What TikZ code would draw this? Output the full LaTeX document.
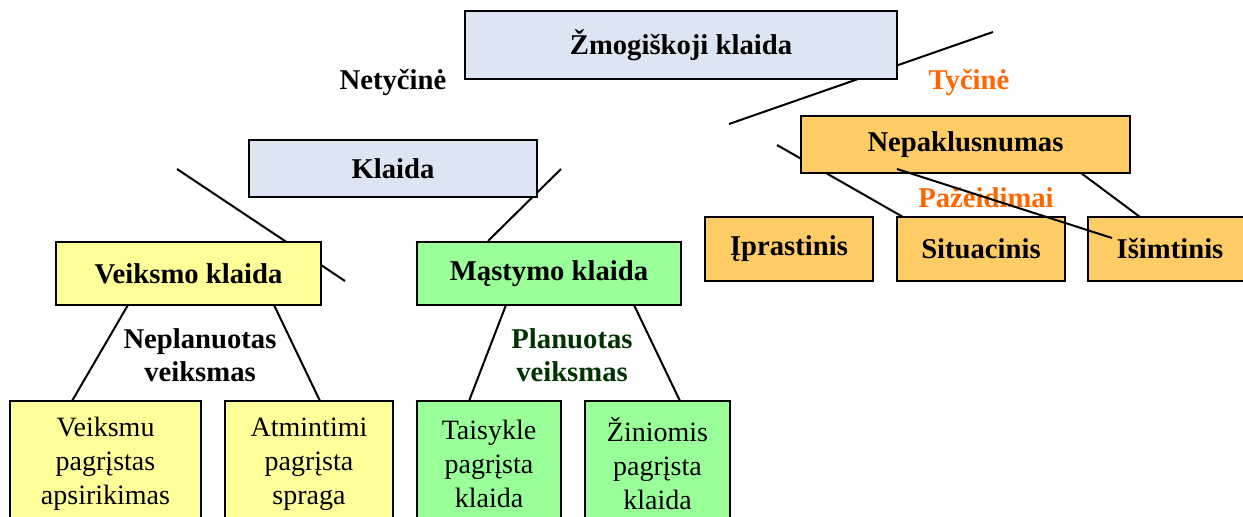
\documentclass[tikz,border=0pt]{standalone}
\usepackage{fontspec}
\setmainfont{Liberation Serif}
\definecolor{boxblue}{HTML}{DCE6F2}
\definecolor{boxyellow}{HTML}{FFFF99}
\definecolor{boxgreen}{HTML}{99FF99}
\definecolor{boxorange}{HTML}{FFCC66}
\definecolor{txtorange}{HTML}{FF6600}
\definecolor{txtgreen}{HTML}{003300}
\begin{document}
\begin{tikzpicture}[x=0.75pt,y=-0.75pt,
  link/.style={line width=1.5pt, line cap=butt},
  frame/.style 2 args={draw=black, line width=1.5pt, inner sep=0pt, outer sep=0pt,
    minimum width=#1*0.75pt, minimum height=#2*0.75pt, align=center},
  head/.style={font=\fontsize{21.5}{25}\selectfont\bfseries},
  leaf/.style={font=\fontsize{21}{25.5}\selectfont},
  lbl/.style={font=\fontsize{21.5}{25}\selectfont\bfseries, align=center, inner sep=0pt}]
\useasboundingbox (0,0) rectangle (1243,517);
\fill[white] (0,0) rectangle (1243,517);

% end points of the branch lines
\coordinate (t1) at (729,124);  \coordinate (t2) at (993,32);
\coordinate (k1) at (177,169);  \coordinate (k2) at (345,281);
\coordinate (k3) at (561,169);  \coordinate (k4) at (488,241);
\coordinate (n1) at (777,145);  \coordinate (n2) at (903,217);
\coordinate (n3) at (1081,173); \coordinate (n4) at (1140,217);
\coordinate (n5) at (897,169);  \coordinate (n6) at (1112,238);
\coordinate (v1) at (128,305);  \coordinate (v2) at (72,401);
\coordinate (v3) at (274,305);  \coordinate (v4) at (320,401);
\coordinate (m1) at (506,305);  \coordinate (m2) at (469,401);
\coordinate (m3) at (634,305);  \coordinate (m4) at (680,401);

% branch lines lying under the boxes
\draw[link] (t1) -- (t2);
\draw[link] (k1) -- (k2);
\draw[link] (k3) -- (k4);
\draw[link] (n1) -- (n2);
\draw[link] (n3) -- (n4);
\draw[link] (v1) -- (v2);
\draw[link] (v3) -- (v4);
\draw[link] (m1) -- (m2);
\draw[link] (m3) -- (m4);

% boxes
\node[frame={432}{68}, fill=boxblue, head] (top) at (681,45) {\raisebox{-2pt}{Žmogiškoji klaida}};
\node[frame={288}{57}, fill=boxblue, head] (kl) at (393,168.5) {\raisebox{-2pt}{Klaida}};
\node[frame={265}{63}, fill=boxyellow, head] (veik) at (188.5,273.5) {\raisebox{-1.5pt}{Veiksmo klaida}};
\node[frame={264}{63}, fill=boxgreen, head] (mast) at (549,273.5) {\raisebox{-1.5pt}{Mąstymo klaida}};
\node[frame={329}{57}, fill=boxorange, head] (nep) at (965.5,144.5) {\raisebox{-1.5pt}{Nepaklusnumas}};
\node[frame={168}{64}, fill=boxorange, head] (ipr) at (789,249) {Įprastinis};
\node[frame={168}{64}, fill=boxorange, head] (sit) at (981,249) {Situacinis};
\node[frame={164}{64}, fill=boxorange, head] (isim) at (1170,249) {Išimtinis};

\node[frame={191}{126}, fill=boxyellow, leaf] (l1) at (105.5,464) {Veiksmu\\pagrįstas\\apsirikimas};
\node[frame={168}{126}, fill=boxyellow, leaf] (l2) at (309,464) {Atmintimi\\pagrįsta\\spraga};
\node[frame={144}{126}, fill=boxgreen, leaf] (l3) at (489,464) {Taisykle\\pagrįsta\\klaida};
\node[frame={145}{126}, fill=boxgreen, leaf] (l4) at (657.5,464) {Žiniomis\\pagrįsta\\klaida};

% free labels
\node[lbl] (nety) at (393,82) {Netyčinė};
\node[lbl, text=txtorange] (tyc) at (969,82) {Tyčinė};
\node[lbl, text=txtorange] (paz) at (986,198) {Pažeidimai};
\node[lbl] (nepl) at (200,355.5) {Neplanuotas\\veiksmas};
\node[lbl, text=txtgreen] (plan) at (572,355.5) {Planuotas\\veiksmas};

% line drawn over the boxes
\draw[link] (n5) -- (n6);
\end{tikzpicture}
\end{document}
